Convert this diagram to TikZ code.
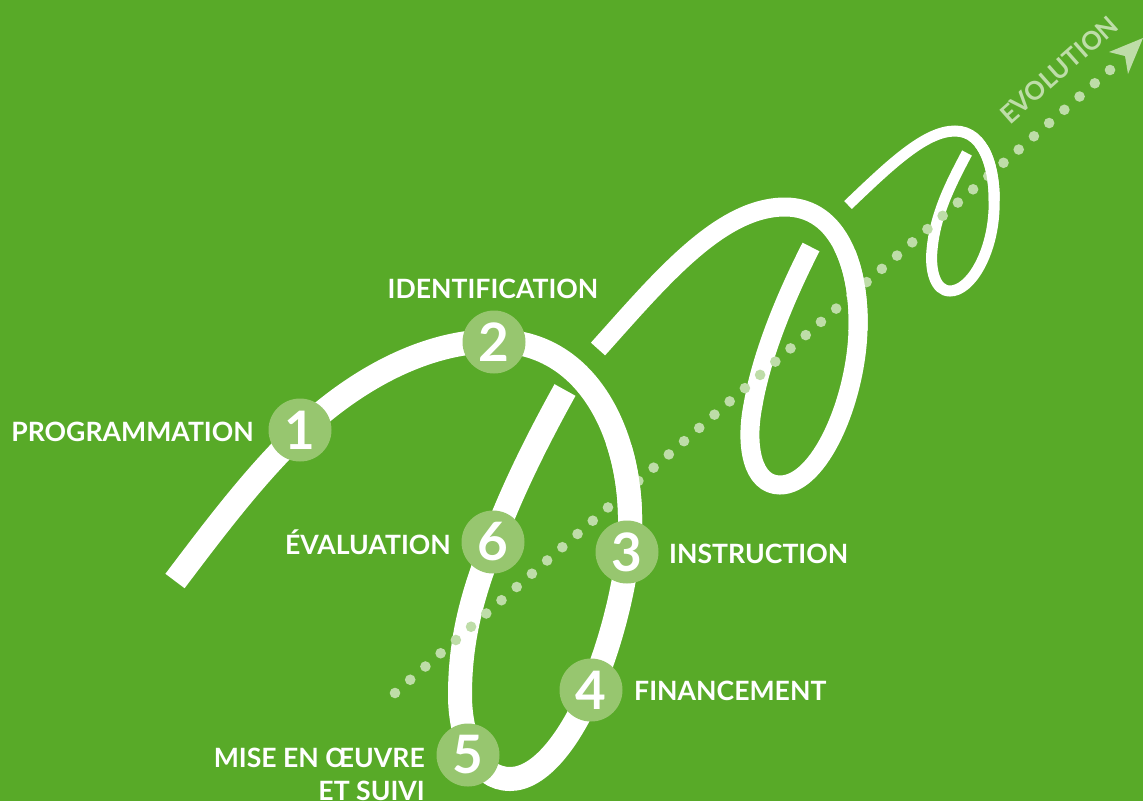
\documentclass[tikz,border=0pt]{standalone}
\usepackage{fontspec}
\setmainfont{Lato}
\usetikzlibrary{calc}
\definecolor{bg}{RGB}{88,170,40}
\definecolor{circ}{RGB}{151,198,111}
\definecolor{dotc}{RGB}{190,221,168}
\tikzset{
  strandA/.style={draw=white,line width=24pt},
  strandB/.style={draw=white,line width=19pt},
  strandC/.style={draw=white,line width=11pt},
  num/.style={circle,fill=circ,minimum size=63pt,inner sep=0pt,text=white,font=\fontsize{53}{53}\selectfont\bfseries},
  lab/.style={text=white,inner sep=0pt,font=\fontsize{26.6}{30}\selectfont\bfseries},
}
\def\pathA{(175,581) .. controls (215,528) and (255,475) .. (300,432)
  .. controls (355,380) and (425,341) .. (495,341)
  .. controls (600,341) and (640,460) .. (628,552)
  .. controls (623,595) and (610,645) .. (592,688)
  .. controls (570,740) and (540,779) .. (510,779)
  .. controls (478,779) and (460,740) .. (460,695)
  .. controls (460,640) and (472,595) .. (493,542)
  .. controls (512,490) and (540,435) .. (565,390)}
\def\pathB{(598,349) .. controls (660,280) and (720,207) .. (785,207)
  .. controls (840,207) and (860,270) .. (858,330)
  .. controls (856,400) and (820,485) .. (780,485)
  .. controls (752,485) and (745,445) .. (753,405)
  .. controls (762,352) and (788,292) .. (811,247)}
\def\pathC{(848,205) .. controls (890,165) and (925,131) .. (955,131)
  .. controls (985,131) and (996,170) .. (994,210)
  .. controls (992,255) and (970,291) .. (950,291)
  .. controls (935,291) and (930,270) .. (932,250)
  .. controls (935,215) and (950,185) .. (967,153)}
\begin{document}
\begin{tikzpicture}[x=1pt,y=-1pt]
\fill[bg] (0,0) rectangle (1143,801);
\useasboundingbox (0,0) rectangle (1143,801);
% spiral strands
\draw[strandA] \pathA;
\draw[strandB] \pathB;
\draw[strandC] \pathC;
% dotted axis
\coordinate (ds) at (395,693);
\coordinate (de) at (1110,70);
\foreach \i in {0,...,47}{
  \fill[dotc] ($(ds)!\i/47!(de)$) circle[radius=5.3pt];
}
% strands passing in front of the axis
\begin{scope}
  \clip (595,445) rectangle (670,535);
  \draw[strandA] \pathA;
\end{scope}
\begin{scope}
  \clip (828,250) rectangle (885,330);
  \draw[strandB] \pathB;
\end{scope}
\begin{scope}
  \clip (975,145) rectangle (1012,200);
  \draw[strandC] \pathC;
\end{scope}
% arrow head
\coordinate (at) at (1143,38);
\coordinate (al) at (1109,52);
\coordinate (ar) at (1128,74);
\coordinate (an) at (1125,56);
\fill[dotc] (al) -- (at) -- (ar) -- (an) -- cycle;
\node[text=dotc,rotate=41.5,inner sep=0pt,font=\fontsize{25.5}{25.5}\selectfont\bfseries] (evo) at (1059,70) {EVOLUTION};
% step circles
\node[num] (n1) at (300,430) {1};
\node[num] (n2) at (494,342) {2};
\node[num] (n3) at (627,552) {3};
\node[num] (n4) at (591,690) {4};
\node[num] (n5) at (468,755) {5};
\node[num] (n6) at (493,542) {6};
% labels
\node[lab,anchor=base east] (l1) at (254,441) {PROGRAMMATION};
\node[lab,anchor=base] (l2) at (493,298) {IDENTIFICATION};
\node[lab,anchor=base west] (l3) at (669,563) {INSTRUCTION};
\node[lab,anchor=base west] (l4) at (634,700) {FINANCEMENT};
\node[lab,anchor=base east] (l6) at (451,554) {ÉVALUATION};
\node[lab,anchor=base east] (l5a) at (425,767) {MISE EN ŒUVRE};
\node[lab,anchor=base east] (l5b) at (425,800) {ET SUIVI};
\end{tikzpicture}
\end{document}
